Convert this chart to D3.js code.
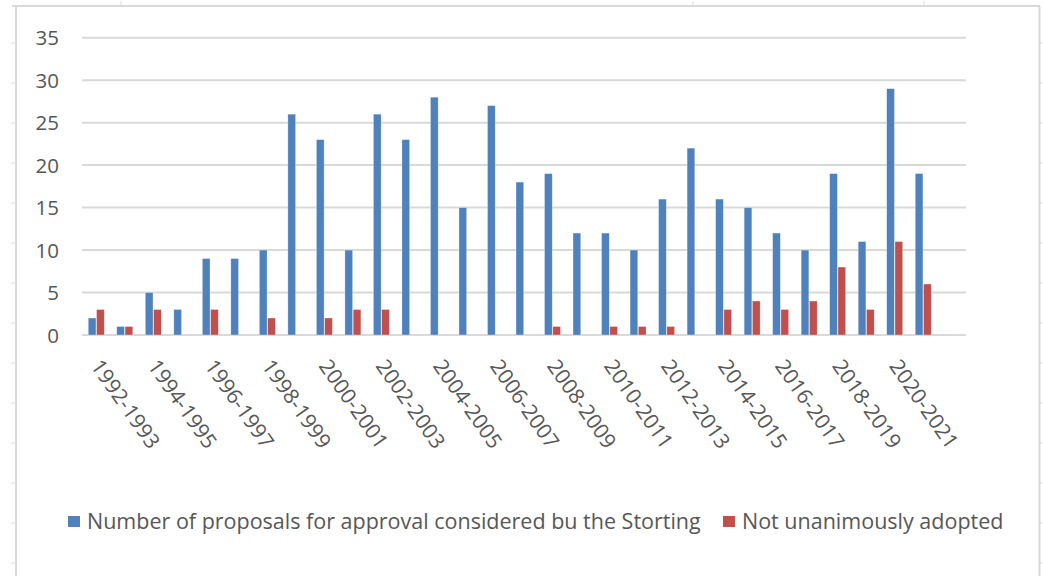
<!DOCTYPE html>
<html>
<head>
<meta charset="utf-8">
<script src="https://cdn.jsdelivr.net/npm/d3@7/dist/d3.min.js"></script>
<style>
  html, body { margin: 0; padding: 0; background: #fff; }
  svg { display: block; font-family: "Open Sans", "Noto Sans", sans-serif; }
</style>
</head>
<body>
<svg id="chart" width="1043" height="576"></svg>
<script>
// ---- data ----
const categories = [
  "1992-1993","1993-1994","1994-1995","1995-1996","1996-1997","1997-1998",
  "1998-1999","1999-2000","2000-2001","2001-2002","2002-2003","2003-2004",
  "2004-2005","2005-2006","2006-2007","2007-2008","2008-2009","2009-2010",
  "2010-2011","2011-2012","2012-2013","2013-2014","2014-2015","2015-2016",
  "2016-2017","2017-2018","2018-2019","2019-2020","2020-2021","2021-2022",
  ""
];
const proposals = [2,1,5,3,9,9,10,26,23,10,26,23,28,15,27,18,19,12,12,10,16,22,16,15,12,10,19,11,29,19,null];
const notUnanimous = [3,1,3,0,3,0,2,0,2,3,3,0,0,0,0,0,1,0,1,1,1,0,3,4,3,4,8,3,11,6,null];
const seriesNames = ["Number of proposals for approval considered bu the Storting", "Not unanimously adopted"];
const seriesColors = ["#4f81bd", "#c0504d"];
const yTicks = [0,5,10,15,20,25,30,35];
const tickLabels = categories.filter((c, i) => i % 2 === 0 && c !== "");

(function () {
// ---- layout ----
const svg = d3.select("#chart");
const pLeft = 82, pRight = 966, pTop = 37.7, pBottom = 335;
const textColor = "#575757";
const gridColor = "#d9d9d9";

// chart frame (sheet border)
const frame = svg.append("g");
frame.append("line").attr("x1", 12).attr("x2", 1040).attr("y1", 6).attr("y2", 6)
  .attr("stroke", gridColor).attr("stroke-width", 2);
frame.append("line").attr("x1", 16).attr("x2", 16).attr("y1", 6).attr("y2", 576)
  .attr("stroke", gridColor).attr("stroke-width", 2);
frame.append("line").attr("x1", 1039.5).attr("x2", 1039.5).attr("y1", 6).attr("y2", 576)
  .attr("stroke", gridColor).attr("stroke-width", 2);
const rowTicks = d3.range(43, 576, 40);
frame.selectAll(".rt").data(rowTicks).join("line")
  .attr("x1", 11).attr("x2", 16).attr("y1", d => d).attr("y2", d => d)
  .attr("stroke", gridColor).attr("stroke-width", 1);
frame.selectAll(".rt2").data(rowTicks).join("line")
  .attr("x1", 1040).attr("x2", 1043).attr("y1", d => d).attr("y2", d => d)
  .attr("stroke", gridColor).attr("stroke-width", 1);
frame.selectAll(".ct").data([121, 693, 924]).join("line")
  .attr("x1", d => d).attr("x2", d => d).attr("y1", 1).attr("y2", 6)
  .attr("stroke", gridColor).attr("stroke-width", 1);

// scales
const x0 = d3.scaleBand().domain(d3.range(categories.length)).range([pLeft, pRight]).paddingInner(0).paddingOuter(0);
const x1 = d3.scaleBand().domain([0, 1]).range([x0.bandwidth() / 2 - 8, x0.bandwidth() / 2 + 8]).paddingInner(0.07);
const y = d3.scaleLinear().domain([0, 35]).range([pBottom, pTop]);

// gridlines
svg.append("g").selectAll("line").data(yTicks).join("line")
  .attr("x1", pLeft).attr("x2", pRight)
  .attr("y1", d => y(d)).attr("y2", d => y(d))
  .attr("stroke", gridColor).attr("stroke-width", 2);

// y axis labels
const yAxis = d3.axisLeft(y).tickValues(yTicks).tickSize(0).tickPadding(0);
const yg = svg.append("g").attr("transform", `translate(59,0)`).call(yAxis);
yg.select(".domain").remove();
yg.selectAll("text").attr("fill", textColor).attr("font-size", 20.5)
  .attr("font-family", "'Open Sans', sans-serif").attr("dy", "0.35em");

// bars
const seriesData = [proposals, notUnanimous];
const groups = svg.append("g").selectAll("g").data(categories.map((c, i) => i)).join("g")
  .attr("transform", i => `translate(${x0(i)},0)`);
groups.selectAll("rect")
  .data(i => seriesData.map((s, k) => ({ k, v: s[i] })).filter(d => d.v))
  .join("rect")
  .attr("x", d => x1(d.k))
  .attr("width", x1.bandwidth())
  .attr("y", d => y(d.v))
  .attr("height", d => y(0) - y(d.v))
  .attr("fill", d => seriesColors[d.k])
  .attr("stroke", "#ffffff").attr("stroke-opacity", 0.5).attr("stroke-width", 0.6);

// x axis labels (rotated)
const xl = svg.append("g");
xl.selectAll("text").data(tickLabels).join("text")
  .attr("transform", d => {
    const i = categories.indexOf(d);
    const cx = x0(i) + x0.bandwidth() / 2;
    return `translate(${cx - 6.3},366) rotate(55)`;
  })
  .attr("fill", textColor).attr("font-size", 21)
  .text(d => d);

// legend
const legend = svg.append("g");
const legendItems = [
  { name: seriesNames[0], color: seriesColors[0], x: 68 },
  { name: seriesNames[1], color: seriesColors[1], x: 723 }
];
const li = legend.selectAll("g").data(legendItems).join("g")
  .attr("transform", d => `translate(${d.x},0)`);
li.append("rect").attr("x", 0).attr("y", 516).attr("width", 12).attr("height", 11)
  .attr("fill", d => d.color);
li.append("text").attr("x", 19).attr("y", 528.5).attr("fill", textColor)
  .attr("font-size", 21.5).text(d => d.name);
})();
</script>
</body>
</html>
